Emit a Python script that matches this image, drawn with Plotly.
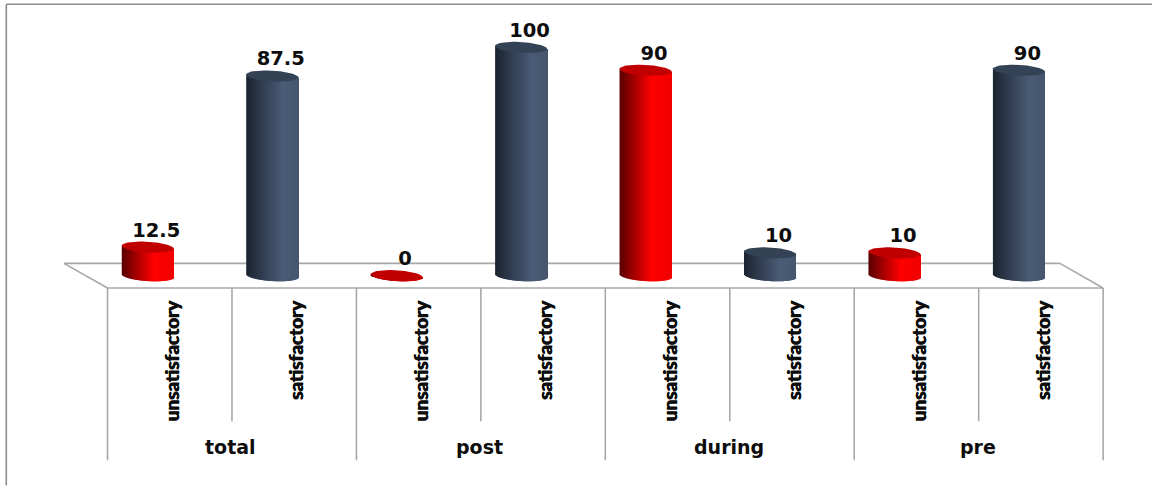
import math
import plotly.graph_objects as go

categories = ["unsatisfactory", "satisfactory"] * 4
groups = ["total", "post", "during", "pre"]
values = [12.5, 87.5, 0, 100, 90, 10, 10, 90]
value_labels = ["12.5", "87.5", "0", "100", "90", "10", "10", "90"]
series_is_red = [True, False, True, False, True, False, True, False]

W, H = 1152, 486
AX_BOTTOM = 288.3          # px of the front floor edge
ZERO_PX = 276.0
PX_PER_UNIT = 2.285
X0_PX = 169.75
PX_PER_CAT = 124.45
GRAY = "#a8a8a8"

ydata = lambda px: (ZERO_PX - px) / PX_PER_UNIT
xdata = lambda px: (px - X0_PX) / PX_PER_CAT

BAR_SHIFT = -22.0 / PX_PER_CAT
HALF_W = 26.0 / PX_PER_CAT
ELL_B = 5.4 / PX_PER_UNIT
SHEAR = 1.5 / PX_PER_UNIT
N_STRIPS = 52

RED_STOPS = [(0, (88, 0, 0)), (0.3, (170, 0, 0)), (0.62, (255, 0, 0)), (1, (240, 0, 0))]
BLUE_STOPS = [(0, (27, 36, 48)), (0.35, (52, 65, 85)), (0.7, (74, 92, 118)), (1, (70, 86, 110))]


def ramp(stops, t):
    for (a, ca), (b, cb) in zip(stops, stops[1:]):
        if t <= b:
            f = (t - a) / (b - a)
            return "rgb(%d,%d,%d)" % tuple(round(p + (q - p) * f) for p, q in zip(ca, cb))
    return "rgb(%d,%d,%d)" % stops[-1][1]


fig = go.Figure()
xs = list(range(len(values)))

# Cylinder bodies: vertical strips from the front of the base ellipse up to the top ellipse centre line
for j in range(N_STRIPS):
    t = (j + 0.5) / N_STRIPS
    u = 2 * t - 1
    depth = ELL_B * math.sqrt(max(0, 1 - u * u))
    tilt = -SHEAR * u
    base = -depth + tilt
    strip_w = 2 * HALF_W / N_STRIPS
    fig.add_trace(go.Bar(
        x=xs,
        y=[v - base + tilt for v in values],
        base=[base] * len(values),
        width=strip_w * (2 if j < N_STRIPS - 1 else 1),
        offset=BAR_SHIFT - HALF_W + strip_w * j,
        marker=dict(color=[ramp(RED_STOPS if r else BLUE_STOPS, t) for r in series_is_red],
                    line=dict(width=0)),
        showlegend=False, hoverinfo="skip",
    ))

# Cylinder top faces
for i, v in enumerate(values):
    angles = [2 * math.pi * k / 60 for k in range(61)]
    fig.add_trace(go.Scatter(
        x=[i + BAR_SHIFT + HALF_W * math.cos(a) for a in angles],
        y=[v + ELL_B * math.sin(a) - SHEAR * math.cos(a) for a in angles],
        mode="lines", fill="toself",
        fillcolor="#c00000" if series_is_red[i] else "#344256",
        line=dict(width=0), showlegend=False, hoverinfo="skip",
    ))

# Data labels
fig.add_trace(go.Scatter(
    x=[i + BAR_SHIFT + 8.5 / PX_PER_CAT for i in xs],
    y=[v + 15.5 / PX_PER_UNIT for v in values],
    mode="text", text=value_labels, textposition="middle center",
    textfont=dict(family="DejaVu Sans", size=19.5, color="#0d0d0d", weight="bold"),
    showlegend=False, hoverinfo="skip",
))

shapes = []


def line(x0, y0, x1, y1, color=GRAY, width=1.6):
    shapes.append(dict(type="line", xref="paper", yref="paper",
                       x0=x0 / W, x1=x1 / W,
                       y0=(AX_BOTTOM - y0) / AX_BOTTOM, y1=(AX_BOTTOM - y1) / AX_BOTTOM,
                       line=dict(color=color, width=width), layer="below"))


# Floor
line(64, 263.6, 1060, 263.6)
line(64, 263.6, 107.5, 288.3)
line(1060, 263.6, 1103, 288.3)
line(107.5, 288.3, 1103, 288.3)
# Axis dividers
for k in range(len(values) + 1):
    px = X0_PX + PX_PER_CAT * (k - 0.5)
    line(px, 288.3, px, 460.7 if k % 2 == 0 else 421.7)
# Outer frame
line(6.3, 4.3, 1152, 4.3, "#8c8c8c", 1.6)
line(6.3, 4.3, 6.3, 486, "#8c8c8c", 1.6)

annotations = [
    dict(xref="x", yref="paper", x=2 * g + 0.5 - 1.0 / PX_PER_CAT, y=(AX_BOTTOM - 447) / AX_BOTTOM,
         text=name, showarrow=False, xanchor="center", yanchor="middle",
         font=dict(family="DejaVu Sans", size=19, color="#0d0d0d", weight="bold"))
    for g, name in enumerate(groups)
]

fig.update_layout(
    width=W, height=H, autosize=False,
    margin=dict(l=0, r=0, t=0, b=H - AX_BOTTOM, pad=0),
    paper_bgcolor="white", plot_bgcolor="rgba(0,0,0,0)",
    barmode="overlay", shapes=shapes, annotations=annotations,
    xaxis=dict(range=[xdata(0), xdata(W)], tickmode="array",
               tickvals=[i + 3.0 / PX_PER_CAT for i in xs], ticktext=categories,
               tickangle=-90, ticks="", showline=False, showgrid=False, zeroline=False,
               ticklabelstandoff=8,
               tickfont=dict(family="Lato", size=19, color="#0d0d0d", weight="bold",
                             shadow="0.5px 0 0 #0d0d0d, -0.5px 0 0 #0d0d0d")),
    yaxis=dict(range=[ydata(AX_BOTTOM), ydata(0)], visible=False, showgrid=False, zeroline=False),
)

fig.write_html("out.html", config={"displayModeBar": False},
               post_script="document.body.style.margin='0';document.documentElement.style.overflow='hidden';")
